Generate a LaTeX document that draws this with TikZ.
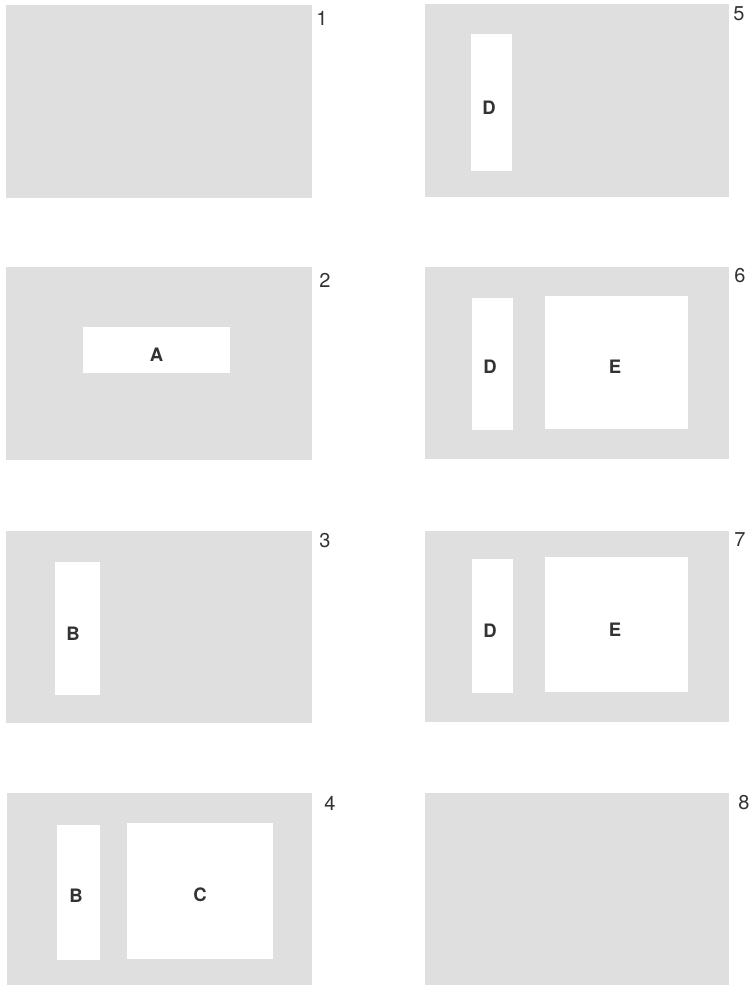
\documentclass[tikz,border=0pt]{standalone}
\usepackage{fontspec}
\setmainfont{TeX Gyre Heros}
\begin{document}
\begin{tikzpicture}[x=1pt,y=-1pt,
  panel/.style={fill=panelgray,draw=none},
  hole/.style={fill=white,draw=none},
  lbl/.style={text=textgray,font=\fontsize{18.5}{18.5}\selectfont\bfseries,inner sep=0pt},
  num/.style={text=textgray,font=\fontsize{20}{20}\selectfont,inner sep=0pt}]
\definecolor{panelgray}{HTML}{DFDFDF}
\definecolor{textgray}{HTML}{333333}
\useasboundingbox (0,0) rectangle (754,988);
% panel 1
\fill[panel] (6,5) rectangle (312,198);
\node[num] (n1) at (322,18) {1};
% panel 2
\fill[panel] (6,267) rectangle (312,460);
\fill[hole] (83,327) rectangle (230,373);
\node[lbl] (A) at (156.5,355) {A};
\node[num] (n2) at (325,280) {2};
% panel 3
\fill[panel] (6,531) rectangle (312,723);
\fill[hole] (55,562) rectangle (100,695);
\node[lbl] (B1) at (73,634) {B};
\node[num] (n3) at (325,541) {3};
% panel 4
\fill[panel] (7,793) rectangle (312,985);
\fill[hole] (57,825) rectangle (100,960);
\fill[hole] (127,823) rectangle (273,959);
\node[lbl] (B2) at (76,896) {B};
\node[lbl] (C) at (200,895) {C};
\node[num] (n4) at (330,803) {4};
% panel 5
\fill[panel] (425,4) rectangle (729,197);
\fill[hole] (471,34) rectangle (512,171);
\node[lbl] (D1) at (489,108) {D};
\node[num] (n5) at (739,14) {5};
% panel 6
\fill[panel] (425,267) rectangle (729,459);
\fill[hole] (472,298) rectangle (513,430);
\fill[hole] (545,296) rectangle (688,429);
\node[lbl] (D2) at (490,367) {D};
\node[lbl] (E1) at (615,367) {E};
\node[num] (n6) at (740,276) {6};
% panel 7
\fill[panel] (425,531) rectangle (729,722);
\fill[hole] (472,559) rectangle (513,693);
\fill[hole] (545,557) rectangle (688,692);
\node[lbl] (D3) at (490,631) {D};
\node[lbl] (E2) at (615,630) {E};
\node[num] (n7) at (740,540) {7};
% panel 8
\fill[panel] (425,793) rectangle (729,985);
\node[num] (n8) at (744,803) {8};
\end{tikzpicture}
\end{document}
